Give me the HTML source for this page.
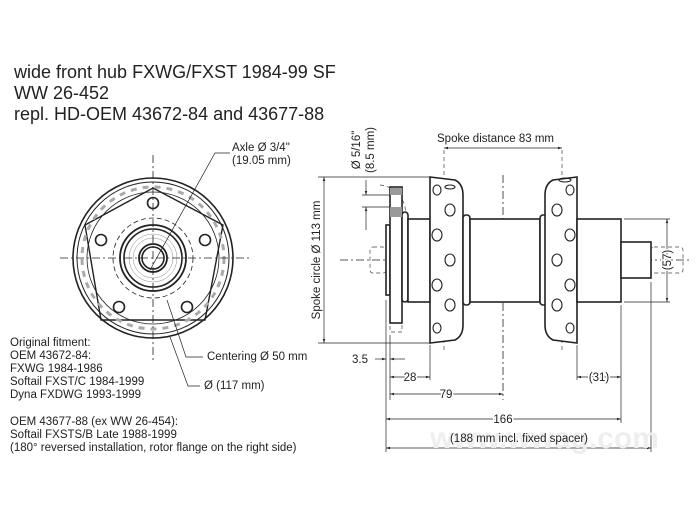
<!DOCTYPE html>
<html><head><style>
body{margin:0;background:#fff;}
svg{display:block;font-family:"Liberation Sans",sans-serif;}
</style></head><body>
<svg width="700" height="511" viewBox="0 0 700 511" xmlns="http://www.w3.org/2000/svg">
<defs>
<marker id="a" viewBox="0 0 10 10" refX="10" refY="5" markerWidth="6" markerHeight="6" orient="auto-start-reverse"><path d="M0,2 L10,5 L0,8z" fill="#222"/></marker>
</defs>
<g font-size="18" fill="#222">
<text x="14" y="78">wide front hub FXWG/FXST 1984-99 SF</text>
<text x="14" y="99">WW 26-452</text>
<text x="14" y="120">repl. HD-OEM 43672-84 and 43677-88</text>
</g>
<g font-size="11.5" fill="#222">
<text x="10" y="346">Original fitment:</text>
<text x="10" y="359">OEM 43672-84:</text>
<text x="10" y="372">FXWG 1984-1986</text>
<text x="10" y="385">Softail FXST/C 1984-1999</text>
<text x="10" y="398">Dyna FXDWG 1993-1999</text>
<text x="10" y="425">OEM 43677-88 (ex WW 26-454):</text>
<text x="10" y="438">Softail FXSTS/B Late 1988-1999</text>
<text x="10" y="451">(180° reversed installation, rotor flange on the right side)</text>
<text x="232" y="151">Axle Ø 3/4"</text>
<text x="232" y="164">(19.05 mm)</text>
<text x="207" y="360">Centering Ø 50 mm</text>
<text x="204" y="389">Ø (117 mm)</text>
</g>
<!-- front view -->
<g fill="none" stroke="#222" stroke-width="1.6">
<circle cx="153" cy="258" r="80"/>
<circle cx="153" cy="258" r="76" stroke-width="1"/>
<circle cx="153" cy="258" r="66" stroke-width="0.8"/>
<circle cx="153" cy="258" r="40" stroke-width="0.8" stroke-dasharray="5,3"/>
<circle cx="153" cy="258" r="33" stroke-width="1.8"/>
<circle cx="153" cy="258" r="29"/>
<circle cx="153" cy="258" r="24" stroke-width="0.5" stroke="#888"/>
<circle cx="153" cy="258" r="20" stroke-width="0.5" stroke="#888"/>
<circle cx="153" cy="258" r="14" stroke-width="1.8"/>
<circle cx="153" cy="258" r="11"/>
<polygon points="153,188 223,225 205,320 101,320 85,225" stroke-width="1.4"/>
<circle cx="153" cy="203" r="5.5"/>
<circle cx="205" cy="240" r="5.5"/>
<circle cx="187" cy="307" r="5.5"/>
<circle cx="119" cy="307" r="5.5"/>
<circle cx="101" cy="240" r="5.5"/>
</g>
<g stroke="#aaa" stroke-width="3" stroke-dasharray="6,6" fill="none"><circle cx="153" cy="258" r="71"/></g>
<g stroke="#222" stroke-width="0.8" stroke-dasharray="8,3,2,3">
<line x1="60" y1="258" x2="252" y2="258"/>
<line x1="153" y1="155" x2="153" y2="360"/>
</g>
<g stroke="#222" stroke-width="0.7" fill="none">
<polyline points="230,153 215,153 150,270"/>
<polyline points="203,357 186,357 167,300"/>
<polyline points="200,386 188,386 170,337"/>
</g>
<!-- side view -->
<g stroke="#222" stroke-width="0.8" stroke-dasharray="8,3,2,3">
<line x1="340" y1="260" x2="692" y2="260"/>
<line x1="503" y1="175" x2="503" y2="400"/>
</g>
<g stroke="#444" stroke-width="0.7" stroke-dasharray="4,3" fill="none">
<line x1="444" y1="150" x2="444" y2="352"/>
<line x1="562" y1="150" x2="562" y2="352"/>
<rect x="370" y="247" width="16" height="26" rx="3"/>
<rect x="651" y="247" width="32" height="26" rx="3"/>
<rect x="390" y="323" width="12" height="9"/>
<path d="M380,185 A28,28 0 0 1 390,238"/>
</g>
<g fill="#fff" stroke="#222" stroke-width="1.6">
<rect x="386" y="225" width="4" height="70"/>
<rect x="390" y="187" width="12" height="136"/>
<rect x="402" y="212" width="6" height="90" rx="3"/>
<rect x="408" y="219" width="22" height="83"/>
<path d="M430,177 L455,180 Q463,184 463,195 L463,325 Q463,336 455,340 L430,343 Z"/>
<rect x="463" y="215" width="7" height="90" rx="3"/>
<rect x="470" y="219" width="70" height="83"/>
<rect x="540" y="215" width="7" height="90" rx="3"/>
<path d="M577,177 L553,180 Q545,184 545,195 L545,325 Q545,336 553,340 L577,343 Z"/>
<rect x="577" y="219" width="44" height="83"/>
<rect x="621" y="242" width="30" height="36"/>
</g>
<rect x="390" y="188" width="12" height="7" fill="#999"/>
<rect x="390" y="207" width="12" height="10" fill="#999"/>
<g fill="none" stroke="#222" stroke-width="1.1">
<ellipse cx="437" cy="190" rx="4" ry="5"/><ellipse cx="450" cy="210" rx="5" ry="6"/>
<ellipse cx="437" cy="235" rx="5" ry="6"/><ellipse cx="450" cy="260" rx="5" ry="6"/>
<ellipse cx="437" cy="285" rx="5" ry="6"/><ellipse cx="450" cy="305" rx="5" ry="6"/>
<ellipse cx="437" cy="328" rx="4" ry="5"/><ellipse cx="450" cy="187" rx="5" ry="2"/>
<ellipse cx="570" cy="190" rx="4" ry="5"/><ellipse cx="557" cy="210" rx="5" ry="6"/>
<ellipse cx="570" cy="235" rx="5" ry="6"/><ellipse cx="557" cy="260" rx="5" ry="6"/>
<ellipse cx="570" cy="285" rx="5" ry="6"/><ellipse cx="557" cy="305" rx="5" ry="6"/>
<ellipse cx="570" cy="328" rx="4" ry="5"/><ellipse cx="565" cy="180" rx="6" ry="2"/>
</g>
<!-- dimensions -->
<g stroke="#222" stroke-width="0.7" fill="none">
<line x1="318" y1="177" x2="430" y2="177"/><line x1="318" y1="343" x2="430" y2="343"/>
<line x1="324" y1="177" x2="324" y2="343" marker-start="url(#a)" marker-end="url(#a)"/>
<line x1="444" y1="148" x2="562" y2="148" marker-start="url(#a)" marker-end="url(#a)"/>
<line x1="362" y1="195" x2="390" y2="195"/><line x1="362" y1="207" x2="390" y2="207"/>
<line x1="366" y1="180" x2="366" y2="195" marker-end="url(#a)"/>
<line x1="366" y1="230" x2="366" y2="207" marker-end="url(#a)"/>
<line x1="624" y1="219" x2="670" y2="219"/><line x1="624" y1="302" x2="670" y2="302"/>
<line x1="667" y1="219" x2="667" y2="302" marker-start="url(#a)" marker-end="url(#a)"/>
<line x1="386" y1="300" x2="386" y2="452"/><line x1="390" y1="335" x2="390" y2="400"/>
<line x1="430" y1="345" x2="430" y2="380"/><line x1="577" y1="345" x2="577" y2="380"/>
<line x1="621" y1="305" x2="621" y2="423"/><line x1="651" y1="282" x2="651" y2="452"/>
<line x1="375" y1="359" x2="386" y2="359" marker-end="url(#a)"/>
<line x1="405" y1="359" x2="390" y2="359" marker-end="url(#a)"/>
<line x1="390" y1="377" x2="430" y2="377" marker-start="url(#a)" marker-end="url(#a)"/>
<line x1="390" y1="394" x2="503" y2="394" marker-start="url(#a)" marker-end="url(#a)"/>
<line x1="577" y1="377" x2="621" y2="377" marker-start="url(#a)" marker-end="url(#a)"/>
<line x1="386" y1="419" x2="621" y2="419" marker-start="url(#a)" marker-end="url(#a)"/>
<line x1="386" y1="448" x2="651" y2="448" marker-start="url(#a)" marker-end="url(#a)"/>
</g>
<text x="430" y="448" font-size="30" font-weight="bold" fill="#eee">www.wwag.com</text>
<g font-size="11.5" fill="#222">
<text x="437" y="142">Spoke distance 83 mm</text>
<text transform="translate(320,260) rotate(-90)" text-anchor="middle">Spoke circle Ø 113 mm</text>
<text transform="translate(360,150) rotate(-90)" text-anchor="middle">Ø 5/16"</text>
<text transform="translate(374,150) rotate(-90)" text-anchor="middle">(8.5 mm)</text>
<text transform="translate(671,260) rotate(-90)" text-anchor="middle" fill="#222" stroke="#fff" stroke-width="3" paint-order="stroke">(57)</text>
<g stroke="#fff" stroke-width="3" paint-order="stroke">
<text x="352" y="363">3.5</text>
<text x="410" y="381" text-anchor="middle">28</text>
<text x="446" y="398" text-anchor="middle">79</text>
<text x="599" y="381" text-anchor="middle">(31)</text>
<text x="503" y="423" text-anchor="middle">166</text>
</g>
<text x="519" y="442" text-anchor="middle">(188 mm incl. fixed spacer)</text>
</g>
</svg>
</body></html>
